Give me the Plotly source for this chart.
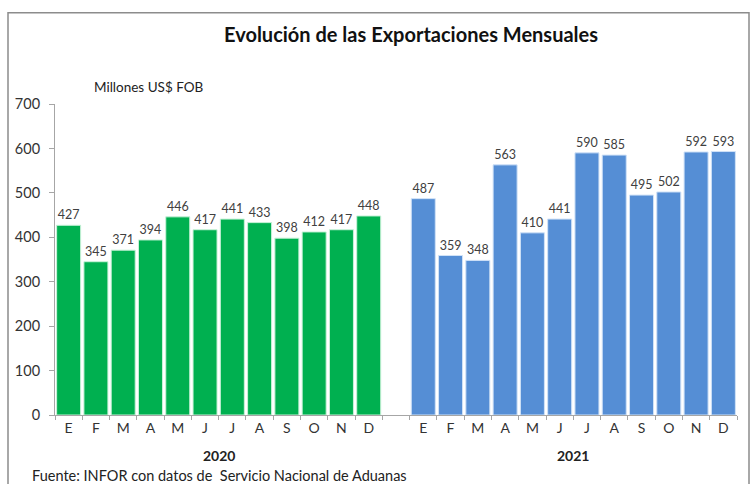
import plotly.graph_objects as go

months = ["E", "F", "M", "A", "M", "J", "J", "A", "S", "O", "N", "D"]
years = ["2020", "2021"]
values_2020 = [427, 345, 371, 394, 446, 417, 441, 433, 398, 412, 417, 448]
values_2021 = [487, 359, 348, 563, 410, 441, 590, 585, 495, 502, 592, 593]
y_ticks = [0, 100, 200, 300, 400, 500, 600, 700]

FONT = "Lato"
W, H = 750, 484
L, R, T, B = 55, 13, 103.5, 69
pw, ph = W - L - R, H - T - B

def px_x(x):
    return (x - L) / pw

def px_y(y):
    return (H - B - y) / ph

x2020 = list(range(len(values_2020)))
x2021 = [len(values_2020) + 1 + i for i in range(len(values_2021))]

fig = go.Figure()
fig.add_trace(go.Bar(
    x=x2020, y=values_2020, name=years[0],
    marker=dict(color="#00B050", line=dict(color="#c9f2d9", width=1)),
    text=values_2020, textposition="outside", cliponaxis=False,
    textfont=dict(family=FONT, size=12.5, color="#404040"),
))
fig.add_trace(go.Bar(
    x=x2021, y=values_2021, name=years[1],
    marker=dict(color="#558ED5", line=dict(color="#d0e2f7", width=1)),
    text=values_2021, textposition="outside", cliponaxis=False,
    textfont=dict(family=FONT, size=12.5, color="#404040"),
))

fig.update_layout(
    width=W, height=H,
    margin=dict(l=L, r=R, t=T, b=B),
    paper_bgcolor="white", plot_bgcolor="white",
    showlegend=False, barmode="group", bargap=0.12,
    font=dict(family=FONT, color="#333333"),
    xaxis=dict(
        range=[-0.5, len(x2020) + len(x2021) + 0.5],
        tickvals=x2020 + x2021, ticktext=months + months,
        ticks="", showgrid=False, zeroline=False,
        showline=True, linecolor="#a6a6a6", linewidth=1,
        tickfont=dict(family=FONT, size=14, color="#333333"),
        minor=dict(dtick=1, tick0=0.5, ticks="outside", ticklen=4,
                   tickcolor="#a6a6a6", showgrid=False),
    ),
    yaxis=dict(
        range=[0, 700], tickvals=y_ticks,
        ticks="outside", ticklen=5, tickcolor="#a6a6a6",
        showgrid=False, zeroline=False,
        showline=True, linecolor="#a6a6a6", linewidth=1,
        ticklabelstandoff=6,
        tickfont=dict(family=FONT, size=14.5, color="#333333"),
    ),
)

fig.add_annotation(text="<b>Evolución de las Exportaciones Mensuales</b>",
                   xref="paper", yref="paper", x=px_x(411), y=px_y(33),
                   xanchor="center", yanchor="middle", showarrow=False,
                   font=dict(family=FONT, size=20, color="#111111"))
fig.add_annotation(text="Millones US$ FOB",
                   xref="paper", yref="paper", x=px_x(92), y=px_y(86),
                   xanchor="left", yanchor="middle", showarrow=False,
                   font=dict(family=FONT, size=13.5, color="#222222"))
fig.add_annotation(text="<b>" + years[0] + "</b>",
                   xref="x", yref="paper", x=sum(x2020) / len(x2020), y=px_y(456),
                   xanchor="center", yanchor="middle", showarrow=False,
                   font=dict(family=FONT, size=14, color="#222222"))
fig.add_annotation(text="<b>" + years[1] + "</b>",
                   xref="x", yref="paper", x=sum(x2021) / len(x2021), y=px_y(456),
                   xanchor="center", yanchor="middle", showarrow=False,
                   font=dict(family=FONT, size=14, color="#222222"))
fig.add_annotation(text="Fuente: INFOR con datos de  Servicio Nacional de Aduanas",
                   xref="paper", yref="paper", x=px_x(30), y=px_y(476),
                   xanchor="left", yanchor="middle", showarrow=False,
                   font=dict(family=FONT, size=14.5, color="#222222"))

fig.add_shape(type="rect", xref="paper", yref="paper",
              x0=px_x(8), x1=px_x(749), y0=px_y(490), y1=px_y(12),
              line=dict(color="#8c8c8c", width=1.5), fillcolor="rgba(0,0,0,0)",
              layer="below")

fig.write_html("out.html", config={"displayModeBar": False},
               post_script="document.body.style.margin='0px';document.body.style.overflow='hidden';")
